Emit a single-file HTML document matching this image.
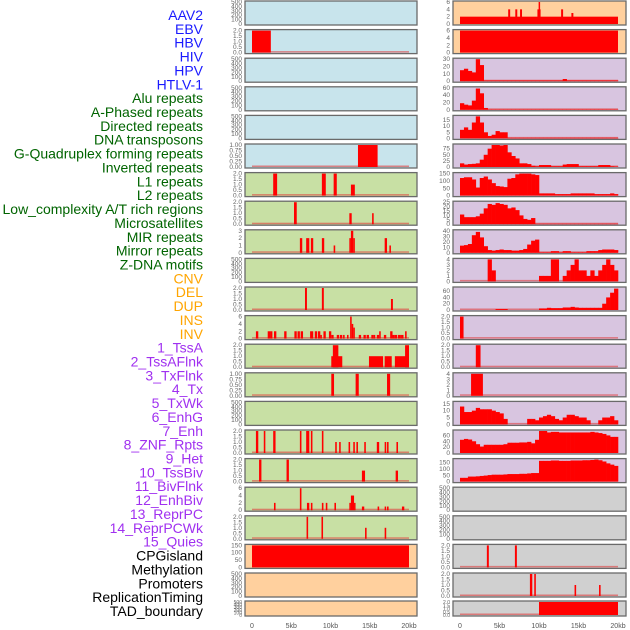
<!DOCTYPE html>
<html><head><meta charset="utf-8"><style>
html,body{margin:0;padding:0;background:#fff;}
svg{display:block;font-family:"Liberation Sans",sans-serif;}
</style></head><body>
<svg id="chart" width="630" height="630" viewBox="0 0 630 630" xmlns="http://www.w3.org/2000/svg"></svg>
<script>
// ---------- data ----------
const rowLabels = ["AAV2","EBV","HBV","HIV","HPV","HTLV-1","Alu repeats","A-Phased repeats","Directed repeats","DNA transposons","G-Quadruplex forming repeats","Inverted repeats","L1 repeats","L2 repeats","Low_complexity A/T rich regions","Microsatellites","MIR repeats","Mirror repeats","Z-DNA motifs","CNV","DEL","DUP","INS","INV","1_TssA","2_TssAFlnk","3_TxFlnk","4_Tx","5_TxWk","6_EnhG","7_Enh","8_ZNF_Rpts","9_Het","10_TssBiv","11_BivFlnk","12_EnhBiv","13_ReprPC","14_ReprPCWk","15_Quies","CPGisland","Methylation","Promoters","ReplicationTiming","TAD_boundary"];
const rowLabelGroups = ["v","v","v","v","v","v","r","r","r","r","r","r","r","r","r","r","r","r","r","s","s","s","s","s","c","c","c","c","c","c","c","c","c","c","c","c","c","c","c","k","k","k","k","k"];
const xTickLabels = ["0","5kb","10kb","15kb","20kb"];
const xTickValues = [0,5,10,15,20];

const T500 = ["0","100","200","300","400","500"];
const T2 = ["0.0","0.5","1.0","1.5","2.0"];
const leftTicks = [T500,T2,T500,T500,T500,["0.00","0.25","0.50","0.75","1.00"],T2,T2,["0","1","2","3"],T500,T2,["0","2","4","6"],T2,["0.00","0.25","0.50","0.75","1.00"],T500,T2,T2,["0","2","4","6"],T2,["0","50","100","150"],T500,T500];
const leftMax = [500,2,500,500,500,1,2,2,3,500,2,6,2,1,500,2,2,6,2,150,500,500];
const leftBg = ["b","b","b","b","b","b","g","g","g","g","g","g","g","g","g","g","g","g","g","o","o","o"];
const leftBars = [
 [],
 [[0,2.4,2]],
 [],[],[],
 [[13.5,16,1]],
 [[2.7,3.2,2],[8.9,9.4,2],[10.4,10.8,2],[12.6,13.1,1]],
 [[5.35,5.7,2],[12.4,12.7,1],[15.3,15.5,1]],
 [[6.1,6.4,2],[6.9,7.3,2],[7.5,7.8,2],[8.9,9.2,2],[10.4,10.6,1],[12.4,12.6,2],[12.6,12.9,3],[12.9,13.1,2],[16.9,17.2,2],[17.5,17.7,1]],
 [],
 [[6.75,7.0,2],[8.9,9.15,2],[17.7,17.95,1]],
 [[0.5,0.8,2],[2.0,2.3,2],[2.3,2.6,2],[2.8,3.1,2],[4.1,4.4,2],[5.4,5.7,2],[5.8,6.1,2],[6.2,6.5,2],[7.4,7.8,2],[8.0,8.3,2],[8.4,8.7,2],[8.7,8.9,1],[9.1,9.4,2],[9.8,10.1,2],[10.1,10.4,1],[10.8,11.1,1],[11.2,11.5,1],[11.6,11.8,1],[12.1,12.3,1],[12.5,12.7,6],[12.7,12.9,4],[12.9,13.1,3],[13.6,13.9,1],[14.2,14.5,1],[14.6,14.9,1],[15.2,15.5,1],[15.5,15.7,1],[15.9,16.2,1],[16.2,16.4,2],[16.8,17.1,1],[17.6,17.9,2],[17.9,18.2,1],[18.2,18.5,1],[18.6,18.9,1],[18.9,19.1,1],[19.1,19.3,1],[19.5,19.7,2]],
 [[10.1,11.5,1],[10.3,11.0,2],[14.9,16.7,1],[16.9,17.8,1],[18.2,20,1],[19.5,20,2]],
 [[10.1,10.45,1],[13.2,13.6,1],[17.2,17.6,1]],
 [],
 [[0.5,0.8,2],[1.5,1.7,2],[2.7,3.0,2],[6.1,6.3,2],[6.9,7.3,2],[7.5,7.7,2],[8.9,9.1,2],[10.6,10.8,1],[11.1,11.3,1],[12.3,12.5,1],[12.9,13.1,1],[13.3,13.5,1],[14.3,14.5,1],[15.9,16.2,1],[16.9,17.1,1],[17.2,17.4,1],[18.4,18.6,1]],
 [[0.9,1.2,2],[4.4,4.7,2],[14.0,14.4,1],[18.3,18.6,1]],
 [[2.8,3.0,2],[6.1,6.3,6],[7.0,7.3,2],[7.5,7.7,2],[8.9,9.1,2],[9.4,9.6,2],[10.5,10.7,2],[12.4,12.6,2],[12.6,13.0,4],[13.0,13.1,2],[14.0,14.3,1],[16.0,16.2,1],[16.9,17.0,1],[17.2,17.4,1],[19.1,19.4,1]],
 [[6.95,7.15,2],[8.85,9.05,2],[14.4,14.6,1],[16.9,17.1,1]],
 [[0,20,150]],
 [],[]
];

const R6 = ["0","2","4","6"];
const rightTicks = [R6,R6,["0","10","20","30"],["0","20","40","60"],["0","5","10","15"],["0","25","50","75"],["0","50","100","150"],["0","5","10","15","20","25"],["0","10","20","30","40"],["0","1","2","3","4"],["0","20","40","60"],T2,T2,["0","1","2","3","4"],["0","5","10","15"],["0","20","40","60"],["0","50","100","150"],T500,T500,T2,T2,T2];
const rightMax = [6,6,30,60,18,90,150,25,40,4,70,2,2,4,16,75,175,500,500,2,2,2];
const rightBg = ["o","o","p","p","p","p","p","p","p","p","p","p","p","p","p","p","p","k","k","k","k","k"];
const rightHist = [
 null,null,
 [15,17,14,12,30,22,1,1,1,1,1,1,1,1,1,1,1,1,1,1,1,1,1,1,1,1,3,1,1,1,1,1,1,1,1,1,1,1,1,1],
 [18,14,12,25,58,45,5,1,1,1,1,1,1,1,1,1,1,1,1,1,1,1,1,1,1,1,1,1,1,1,1,1,1,1,1,1,1,1,1,1],
 [7,9,7,13,18,13,5,2,3,6,5,5,0.5,0.5,0.5,0.5,0.5,0.5,0.5,0.5,0.5,0.5,0.5,0.5,0.5,0.5,0.5,0.5,0.5,0.5,0.5,0.5,0.5,0.5,0.5,0.5,0.5,0.5,0.5,0.5],
 [15,10,12,13,15,30,50,75,90,90,88,90,60,45,35,15,15,12,5,3,8,8,8,3,3,3,10,12,12,12,3,3,3,3,3,8,8,8,3,2],
 [120,125,125,110,55,120,130,110,85,65,62,58,115,120,145,150,150,150,145,140,15,15,15,15,10,10,10,10,15,15,15,15,15,15,10,10,10,10,15,10],
 [11,8,8,8,9,12,18,23,22,24,23,22,18,19,16,10,6,5,7,0.5,0.5,0.5,0.5,0.5,0.5,0.5,0.5,0.5,0.5,0.5,0.5,0.5,0.5,0.5,0.5,0.5,0.5,0.5,0.5,0.5],
 [13,14,16,32,38,28,12,5,4,5,6,5,5,4,4,5,7,15,22,24,1,1,1,3,3,1,3,3,1,1,1,1,3,3,3,5,6,6,6,5],
 [0,0,0,0,0,0,0,4,2,0,0,0,0,0,0,0,0,0,0,0,1,1,1,4,4,0,1,2,3,4,2,2,1,2,1,2,3,4,3,2],
 [0,0,0,0,0,0,0,0,0,3,3,3,0,0,0,0,0,0,0,0,5,5,7,6,6,6,8,8,10,8,7,7,7,7,7,7,20,40,55,68],
 null,null,null,
 [13,9,9,10,12,11,11,11,10,9,8,4,0,0,0,0,0,4,4,3,5,6,7,6,4,3,5,7,7,6,5,5,3,0,0,3,5,5,6,3],
 [45,48,46,40,30,22,28,28,28,28,28,30,35,35,35,36,36,38,33,45,75,75,70,72,72,70,70,70,70,70,70,70,70,72,70,68,65,60,55,55],
 [30,30,40,40,42,45,48,52,55,55,55,57,60,60,60,62,62,65,68,68,165,165,165,168,168,165,165,165,168,168,168,170,170,172,175,170,160,145,135,125],
 null,null,null,null,null
];
const rightBars = [
 [[0,20,2],[6.1,6.35,4],[7.0,7.25,4],[7.6,7.85,4],[9.8,10.2,4],[9.95,10.1,6],[12.8,13.05,4],[14.1,14.35,3]],
 [[0,20,6]],
 [],[],[],[],[],[],[],[],[],
 [[0,0.45,2]],
 [[2.0,2.6,2]],
 [[1.4,2.9,4]],
 [],[],[],[],[],
 [[3.4,3.65,2],[6.95,7.2,2]],
 [[8.85,9.15,2],[9.4,9.6,2],[14.5,14.7,1],[17.6,17.8,1]],
 [[10,20,2]]
];

// ---------- drawing ----------
const NS = "http://www.w3.org/2000/svg";
const svg = document.getElementById("chart");
const bgColors = {b:"#c8e4ec",g:"#c8e0a4",o:"#ffd09e",p:"#d8c5e0",k:"#d0d0d0"};
const labelColors = {v:"#1a1aff",r:"#006400",s:"#ffa500",c:"#a030f0",k:"#000000"};
function mk(tag, attrs){const e=document.createElementNS(NS,tag);for(const k in attrs)e.setAttribute(k,attrs[k]);svg.appendChild(e);return e;}

rowLabels.forEach((t,i)=>{
  const e=mk("text",{x:203,y:20+i*13.86,"text-anchor":"end","font-size":"14",fill:labelColors[rowLabelGroups[i]]});
  e.textContent=t;
  
  
});

function rowTop(i){return i===21?601:1+i*28.6;}
function rowH(i){return i===21?15:24;}

function drawPanel(side, i, ticks, ymax, bg, bars, hist){
  const fx = side==="L"?245:453, fw = side==="L"?172:173;
  const x0 = side==="L"?252:460, x1 = side==="L"?409:618;
  const top=rowTop(i), h=rowH(i);
  const xs = kb => x0 + (x1-x0)*kb/20;
  const yb = top+h-1, yt = top+1;
  const ys = v => yb - (yb-yt)*v/ymax;
  const r=mk("rect",{x:fx,y:top,width:fw,height:h,fill:bgColors[bg],stroke:"#6a6a6a","stroke-width":1.3});
  
  
  ticks.forEach(t=>{
    const v=parseFloat(t);
    const e=mk("text",{x:fx-3,y:ys(v)+2,"text-anchor":"end","font-size":h<20?"5":"6.5",fill:"#666"});
    e.textContent=t;
    
    
  });
  const hasData = (bars && bars.length) || hist;
  if(hasData && !(side==="R" && i<2) && !(side==="L" && i===19)){
    const b=mk("rect",{x:xs(0),y:yb-1.5,width:xs(20)-xs(0),height:1.5,fill:"#e04040",opacity:0.6});
    
    
  }
  if(hist){
    hist.forEach((v,k)=>{
      const a=xs(k*0.5), c=xs(k*0.5+0.5);
      const e=mk("rect",{x:a,y:ys(Math.min(v,ymax)),width:c-a+0.3,height:yb-ys(Math.min(v,ymax)),fill:"#ff0000"});
      
      
    });
  }
  (bars||[]).forEach(bd=>{
    const a=xs(bd[0]), c=xs(bd[1]);
    const e=mk("rect",{x:a,y:ys(bd[2]),width:Math.max(c-a,1.5),height:yb-ys(bd[2]),fill:"#ff0000"});
    
    
  });
  if(i===21){
    xTickValues.forEach((v,k)=>{
      const e=mk("text",{x:xs(v),y:628,"text-anchor":"middle","font-size":"7",fill:"#555"});
      e.textContent=xTickLabels[k];
      
      
    });
  }
}
for(let i=0;i<22;i++){
  drawPanel("L",i,leftTicks[i],leftMax[i],leftBg[i],leftBars[i],null);
  drawPanel("R",i,rightTicks[i],rightMax[i],rightBg[i],rightBars[i],rightHist[i]);
}
</script>
</body></html>
